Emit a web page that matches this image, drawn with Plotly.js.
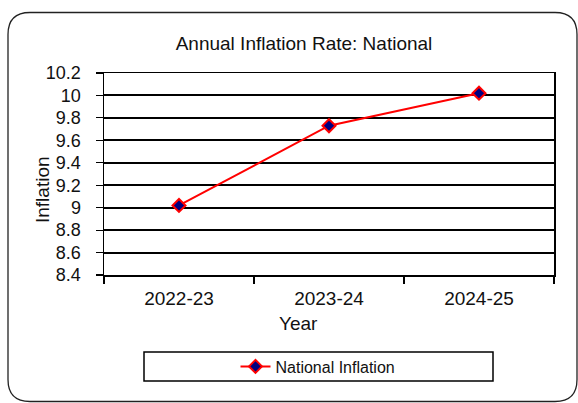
<!DOCTYPE html>
<html>
<head>
<meta charset="utf-8">
<script src="https://cdn.plot.ly/plotly-3.0.1.min.js"></script>
<style>
  html, body { margin: 0; padding: 0; background: #ffffff; }
  #chart { width: 578px; height: 403px; }
</style>
</head>
<body>
<div id="chart"></div>
<script>
// ---- data ----
const years = ["2022-23", "2023-24", "2024-25"];
const inflation = [9.02, 9.73, 10.02];
const seriesName = "National Inflation";
const yTickVals = [8.4, 8.6, 8.8, 9, 9.2, 9.4, 9.6, 9.8, 10, 10.2];
const yTickText = ["8.4", "8.6", "8.8", "9", "9.2", "9.4", "9.6", "9.8", "10", "10.2"];
const chartTitle = "Annual Inflation Rate: National";
const xTitle = "Year";
const yTitle = "Inflation";

// ---- layout geometry (pixels) ----
const W = 578, H = 403;
const L = 104, R = 554, T = 73, B = 275;
const fx = px => (px - L) / (R - L);
const fy = py => (B - py) / (B - T);

const FONT = "Liberation Sans, Arial, sans-serif";
const TXT = "#111111";

// rounded outer frame
function roundedRect(x0, y0, x1, y1, r) {
  const p = [];
  p.push("M" + fx(x0 + r) + "," + fy(y0));
  p.push("L" + fx(x1 - r) + "," + fy(y0));
  p.push("Q" + fx(x1) + "," + fy(y0) + " " + fx(x1) + "," + fy(y0 + r));
  p.push("L" + fx(x1) + "," + fy(y1 - r));
  p.push("Q" + fx(x1) + "," + fy(y1) + " " + fx(x1 - r) + "," + fy(y1));
  p.push("L" + fx(x0 + r) + "," + fy(y1));
  p.push("Q" + fx(x0) + "," + fy(y1) + " " + fx(x0) + "," + fy(y1 - r));
  p.push("L" + fx(x0) + "," + fy(y0 + r));
  p.push("Q" + fx(x0) + "," + fy(y0) + " " + fx(x0 + r) + "," + fy(y0));
  p.push("Z");
  return p.join(" ");
}

const trace = {
  x: years,
  y: inflation,
  name: seriesName,
  type: "scatter",
  mode: "lines+markers",
  line: { color: "#ff0000", width: 2 },
  marker: { symbol: "diamond", size: 10, color: "#000080", line: { color: "#ff0000", width: 2 } },
  showlegend: true,
  hoverinfo: "x+y"
};

const layout = {
  width: W,
  height: H,
  margin: { l: L, r: W - R, t: T, b: H - B, pad: 0 },
  paper_bgcolor: "#ffffff",
  plot_bgcolor: "#ffffff",
  font: { family: FONT, color: TXT, size: 18 },
  title: {
    text: chartTitle,
    font: { family: FONT, size: 19, color: TXT },
    xref: "container", yref: "container",
    x: 304 / W, y: 1 - 43 / H,
    xanchor: "center", yanchor: "middle"
  },
  xaxis: {
    type: "category",
    range: [-0.5, 2.5],
    showgrid: false,
    zeroline: false,
    showline: true, mirror: true, linecolor: "#000000", linewidth: 1.5,
    ticks: "outside", tickson: "boundaries", ticklen: 7, tickwidth: 1.2, tickcolor: "#000000",
    tickfont: { family: FONT, size: 19, color: TXT },
    ticklabelstandoff: 6,
    fixedrange: true
  },
  yaxis: {
    range: [8.4, 10.2],
    tickvals: yTickVals,
    ticktext: yTickText,
    showgrid: true, gridcolor: "#000000", gridwidth: 2,
    zeroline: false,
    showline: true, mirror: true, linecolor: "#000000", linewidth: 1.5,
    ticks: "outside", ticklen: 7, tickwidth: 1.2, tickcolor: "#000000",
    tickfont: { family: FONT, size: 18, color: TXT },
    ticklabelstandoff: 11,
    fixedrange: true
  },
  showlegend: true,
  legend: {
    x: fx(318), y: fy(366.5),
    xanchor: "center", yanchor: "middle",
    orientation: "h",
    bgcolor: "rgba(0,0,0,0)",
    borderwidth: 0,
    font: { family: FONT, size: 16, color: TXT }
  },
  annotations: [
    {
      text: xTitle, xref: "paper", yref: "paper",
      x: fx(298), y: fy(323), xanchor: "center", yanchor: "middle",
      showarrow: false, font: { family: FONT, size: 19, color: TXT }
    },
    {
      text: yTitle, xref: "paper", yref: "paper",
      x: fx(42), y: fy(190), xanchor: "center", yanchor: "middle",
      textangle: -90,
      showarrow: false, font: { family: FONT, size: 19, color: TXT }
    }
  ],
  shapes: [
    {
      type: "rect", xref: "paper", yref: "paper",
      x0: fx(144), x1: fx(493), y0: fy(381), y1: fy(352),
      line: { color: "#000000", width: 1.5 }, fillcolor: "rgba(0,0,0,0)", layer: "above"
    },
    {
      type: "path", xref: "paper", yref: "paper",
      path: roundedRect(8, 12.5, 577, 401.5, 22),
      line: { color: "#222222", width: 1.3 }, fillcolor: "rgba(0,0,0,0)", layer: "above"
    }
  ]
};

Plotly.newPlot("chart", [trace], layout, { displayModeBar: false, staticPlot: true });
</script>
</body>
</html>
